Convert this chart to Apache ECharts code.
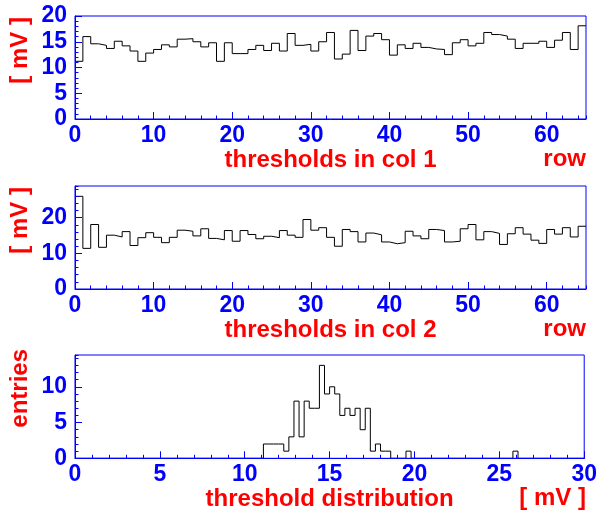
<!DOCTYPE html>
<html>
<head>
<meta charset="utf-8">
<script src="https://cdn.jsdelivr.net/npm/echarts@6/dist/echarts.min.js"></script>
<style>
html,body{margin:0;padding:0;background:#fff;}
#chart{width:600px;height:513px;}
</style>
</head>
<body>
<div id="chart"></div>
<script>
// ---- data ----
// thresholds per row (bins of width 1, rows 0..64)
const col1Thresholds = [11.2,16.0,14.6,14.3,13.7,15.1,14.2,13.2,11.2,12.8,13.5,14.4,14.0,15.5,15.6,15.0,14.0,14.8,11.2,14.8,
  12.7,12.7,13.5,14.3,13.3,14.7,13.2,16.6,14.3,14.5,13.2,15.0,16.8,11.65,12.6,17.2,13.3,16.1,16.6,15.4,
  12.4,14.4,13.7,14.7,13.9,13.6,13.5,12.5,14.8,15.4,14.2,14.7,16.8,16.4,16.1,15.5,13.7,14.7,14.7,15.1,
  13.9,15.3,16.8,13.5,18.1];
const col2Thresholds = [26.0,11.4,18.1,11.7,15.1,14.6,16.1,12.2,14.4,15.8,14.5,13.0,14.5,16.5,16.2,14.9,16.9,14.2,13.8,16.4,
  13.4,16.4,15.3,14.1,14.8,14.4,16.4,15.1,14.5,19.5,16.5,17.2,14.5,12.0,16.7,16.1,13.2,15.7,15.2,13.2,
  12.7,13.0,16.2,14.9,14.1,16.7,16.4,13.2,13.4,16.9,18.1,13.8,16.1,15.6,12.5,15.5,17.2,15.4,13.7,12.8,
  16.7,15.4,17.2,14.6,17.6];
// threshold distribution: 100 bins of 0.3 mV from 0 to 30
const distBinWidth = 0.3;
const distCounts = [
  0,0,0,0,0,0,0,0,0,0,
  0,0,0,0,0,0,0,0,0,0,
  0,0,0,0,0,0,0,0,0,0,
  0,0,0,0,0,0,0,2,2,2,
  2,1,3,8,3,8,7,7,13,9,
  10,9,6,7,6,7,4,7,1,2,
  1,1,0,0,0,1,0,0,0,0,
  0,0,0,0,0,0,0,0,0,0,
  0,0,0,0,0,0,1,0,0,0,
  0,0,0,0,0,0,0,0,0,0];
const xTitles = ['thresholds in col 1', 'thresholds in col 2', 'threshold distribution'];
const xUnits = ['row', 'row', '[ mV ]'];
const yTitles = ['[ mV ]', '[ mV ]', 'entries'];

// ---- helpers ----
function histLine(values, width) {
  const pts = values.map((v, i) => [i * width, v]);
  pts.push([values.length * width, values[values.length - 1]]);
  return pts;
}
const BLUE = '#0000ff', RED = '#ff0000', FONT = "'Liberation Sans', Arial, sans-serif";
const grids = [
  {left: 75, right: 14, top: 16, height: 103},
  {left: 75, right: 14, top: 186, height: 103},
  {left: 75, right: 14, top: 355, height: 103.3}
];
const yTitleTop = [17, 187, 349];
const xCfg = [
  {max: 65, major: 10, minor: 2, showMax: false},
  {max: 65, major: 10, minor: 2, showMax: false},
  {max: 30, major: 5, minor: 1, showMax: true}
];
const yCfg = [
  {max: 20, major: 5, minor: 1, showMax: true},
  {max: 28.9, major: 10, minor: 2, showMax: false},
  {max: 14.45, major: 5, minor: 1, showMax: false}
];
const labelStyle = {color: BLUE, fontSize: 23, fontWeight: 'bold', fontFamily: FONT};
const titleStyle = {color: RED, fontSize: 24, fontWeight: 'bold', fontFamily: FONT};

const xAxes = [], yAxes = [];
grids.forEach((g, gi) => {
  xAxes.push({
    type: 'value', gridIndex: gi, position: 'bottom', min: 0, max: xCfg[gi].max, interval: xCfg[gi].major, z: 5,
    axisLine: {show: true, onZero: false, lineStyle: {color: BLUE, width: 1}},
    axisTick: {show: true, inside: true, length: 7, lineStyle: {color: BLUE, width: 1}},
    axisLabel: Object.assign({margin: 5, showMaxLabel: xCfg[gi].showMax, showMinLabel: true}, labelStyle),
    splitLine: {show: false},
    name: xTitles[gi], nameLocation: 'middle', nameGap: 28, nameTextStyle: titleStyle
  });
  xAxes.push({
    type: 'value', gridIndex: gi, position: 'bottom', min: 0, max: xCfg[gi].max, interval: xCfg[gi].minor, z: 5,
    axisLine: {show: false, onZero: false},
    axisTick: {show: true, inside: true, length: 3.5, lineStyle: {color: BLUE, width: 1}},
    axisLabel: {show: false}, splitLine: {show: false}
  });
  yAxes.push({
    type: 'value', gridIndex: gi, position: 'left', min: 0, max: yCfg[gi].max, interval: yCfg[gi].major, z: 5,
    axisLine: {show: true, onZero: false, lineStyle: {color: BLUE, width: 1}},
    axisTick: {show: true, inside: true, length: 7, lineStyle: {color: BLUE, width: 1}},
    axisLabel: Object.assign({margin: 8, showMaxLabel: yCfg[gi].showMax}, labelStyle),
    splitLine: {show: false}
  });
  yAxes.push({
    type: 'value', gridIndex: gi, position: 'left', min: 0, max: yCfg[gi].max, interval: yCfg[gi].minor, z: 5,
    axisLine: {show: false, onZero: false},
    axisTick: {show: true, inside: true, length: 3.5, lineStyle: {color: BLUE, width: 1}},
    axisLabel: {show: false}, splitLine: {show: false}
  });
});

const seriesData = [histLine(col1Thresholds, 1), histLine(col2Thresholds, 1), histLine(distCounts, distBinWidth)];
const series = seriesData.map((d, gi) => ({
  type: 'line', step: 'end', xAxisIndex: gi * 2, yAxisIndex: gi * 2, data: d,
  showSymbol: false, symbol: 'none', animation: false, clip: true,
  lineStyle: {color: '#000', width: 1}
}));

const graphics = [];
grids.forEach((g, gi) => {
  const bottom = g.top + g.height;
  graphics.push({type: 'text', x: 586, y: bottom + 40, style: Object.assign({text: xUnits[gi], align: 'right', verticalAlign: 'middle', fill: RED, font: "bold 24px " + FONT})});
  graphics.push({type: 'text', x: 20, y: yTitleTop[gi], rotation: Math.PI / 2, style: {text: yTitles[gi], align: 'right', verticalAlign: 'middle', fill: RED, font: "bold 24px " + FONT}});
});

const chart = echarts.init(document.getElementById('chart'), null, {renderer: 'canvas'});
chart.setOption({
  backgroundColor: '#fff',
  animation: false,
  grid: grids.map(g => Object.assign({show: true, borderColor: BLUE, borderWidth: 1, backgroundColor: 'transparent', containLabel: false}, g)),
  xAxis: xAxes,
  yAxis: yAxes,
  series: series,
  graphic: graphics
});
</script>
</body>
</html>
